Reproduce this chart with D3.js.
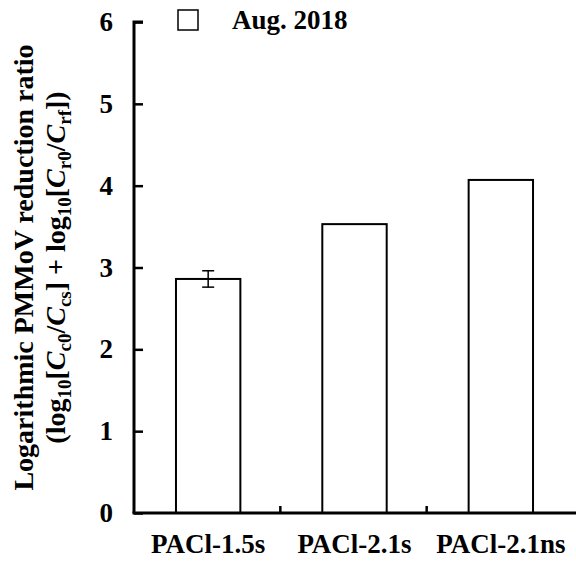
<!DOCTYPE html>
<html>
<head>
<meta charset="utf-8">
<script src="https://d3js.org/d3.v7.min.js"></script>
<style>
  body { margin: 0; background: #fff; }
  text { font-family: "Liberation Serif", "Times New Roman", serif; font-weight: bold; }
</style>
</head>
<body>
<div id="chart"></div>
<script>
var WIDTH = 576, HEIGHT = 561;

// data
var categories = ['PACl-1.5s', 'PACl-2.1s', 'PACl-2.1ns'];
var values = [2.86, 3.53, 4.07];
var errors = [0.1, 0, 0];
var yTicks = [0, 1, 2, 3, 4, 5, 6];
var legendLabel = 'Aug. 2018';

var margin = {left: 134, right: 0, top: 22, bottom: 48};

var svg = d3.select('#chart')
    .append('svg')
    .attr('width', WIDTH)
    .attr('height', HEIGHT);

var x = d3.scaleBand()
    .domain(categories)
    .range([margin.left, WIDTH - 3])
    .paddingInner(0)
    .paddingOuter(0);

var y = d3.scaleLinear()
    .domain([0, 6])
    .range([HEIGHT - margin.bottom, margin.top]);

var barW = x.bandwidth() * 0.44;

//bars
svg.append('g').selectAll('rect')
    .data(values)
    .enter()
    .append('rect')
    .attr('x', function(d, i) { return x(categories[i]) + x.bandwidth() / 2 - barW / 2 + 1; })
    .attr('y', function(d) { return y(d); })
    .attr('width', barW)
    .attr('height', function(d) { return y(0) - y(d); })
    .attr('fill', '#fff')
    .attr('stroke', '#000')
    .attr('stroke-width', 2);

//error bars
var errG = svg.append('g').attr('stroke', '#000').attr('stroke-width', 1.5);
values.forEach(function(v, i) {
    if (!errors[i]) return;
    var cx = x(categories[i]) + x.bandwidth() / 2 + 1;
    errG.append('line').attr('x1', cx).attr('x2', cx).attr('y1', y(v + errors[i])).attr('y2', y(v - errors[i]));
    errG.append('line').attr('x1', cx - 6).attr('x2', cx + 6).attr('y1', y(v + errors[i])).attr('y2', y(v + errors[i]));
    errG.append('line').attr('x1', cx - 6).attr('x2', cx + 6).attr('y1', y(v - errors[i])).attr('y2', y(v - errors[i]));
});

//y axis, ticks pointing inward
var yAxis = svg.append('g')
    .attr('transform', 'translate(' + margin.left + ',0)')
    .call(d3.axisRight(y).tickValues(yTicks).tickSize(9).tickFormat(''));
yAxis.select('.domain').attr('stroke-width', 3).attr('d', 'M9,' + y(6) + 'H0V' + y(0));
yAxis.selectAll('.tick line').attr('stroke-width', 2.5);

svg.append('g').selectAll('text')
    .data(yTicks)
    .enter()
    .append('text')
    .attr('x', 113)
    .attr('y', function(d) { return y(d) + 9; })
    .attr('text-anchor', 'end')
    .attr('font-size', 27)
    .text(function(d) { return d; });

//x axis, boundary ticks pointing up
var xAxis = svg.append('g');
xAxis.append('line')
    .attr('x1', margin.left - 1.5).attr('x2', WIDTH)
    .attr('y1', y(0)).attr('y2', y(0))
    .attr('stroke', '#000').attr('stroke-width', 3);
xAxis.selectAll('line.sep')
    .data(categories.slice(1))
    .enter()
    .append('line')
    .attr('class', 'sep')
    .attr('x1', function(d) { return x(d); })
    .attr('x2', function(d) { return x(d); })
    .attr('y1', y(0)).attr('y2', y(0) - 7)
    .attr('stroke', '#000').attr('stroke-width', 2.5);

svg.append('g').selectAll('text')
    .data(categories)
    .enter()
    .append('text')
    .attr('x', function(d) { return x(d) + x.bandwidth() / 2 + 1; })
    .attr('y', 553)
    .attr('text-anchor', 'middle')
    .attr('font-size', 27)
    .text(function(d) { return d; });

//legend
svg.append('rect')
    .attr('x', 178).attr('y', 10)
    .attr('width', 20).attr('height', 20)
    .attr('fill', '#fff').attr('stroke', '#000').attr('stroke-width', 1.5);
svg.append('text')
    .attr('x', 232).attr('y', 29)
    .attr('font-size', 27)
    .text(legendLabel);

//y axis title
var cy = (y(0) + y(6)) / 2;
svg.append('text')
    .attr('transform', 'translate(33,' + cy + ') rotate(-90)')
    .attr('text-anchor', 'middle')
    .attr('font-size', 28)
    .text('Logarithmic PMMoV reduction ratio');

var t2 = svg.append('text')
    .attr('transform', 'translate(65,' + cy + ') rotate(-90)')
    .attr('text-anchor', 'middle')
    .attr('font-size', 28);
var parts = [
    ['(log', ''], ['10', 'sub'], ['[', ''], ['C', 'i'], ['c0', 'sub'], ['/', ''],
    ['C', 'i'], ['cs', 'sub'], ['] + log', ''], ['10', 'sub'], ['[', ''], ['C', 'i'],
    ['r0', 'sub'], ['/', ''], ['C', 'i'], ['rf', 'sub'], ['])', '']
];
var shifted = false;
parts.forEach(function(p) {
    var ts = t2.append('tspan').text(p[0]);
    if (p[1] === 'sub') {
        ts.attr('font-size', 19).attr('dy', shifted ? 0 : 6);
        shifted = true;
    } else {
        if (shifted) ts.attr('dy', -6);
        shifted = false;
        if (p[1] === 'i') ts.attr('font-style', 'italic');
    }
});
</script>
</body>
</html>
